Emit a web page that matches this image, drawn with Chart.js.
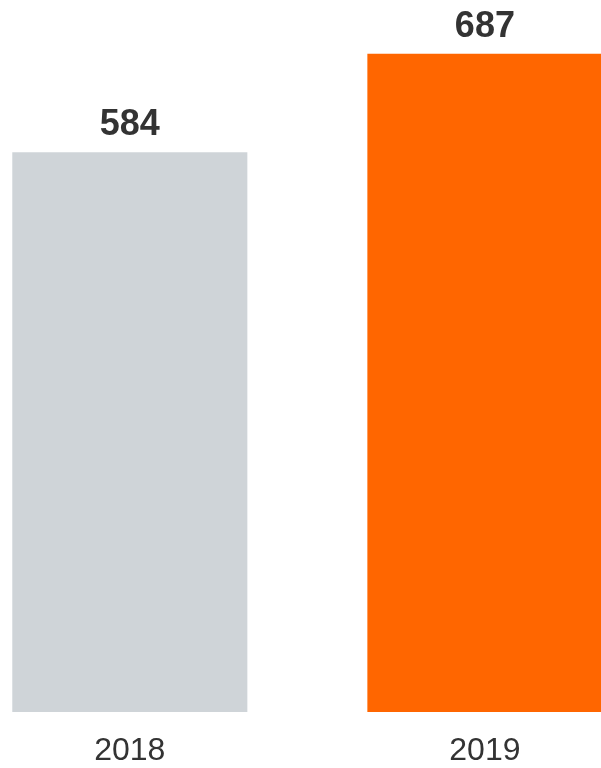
<!DOCTYPE html>
<html>
<head>
<meta charset="utf-8">
<script src="https://cdn.jsdelivr.net/npm/chart.js@4"></script>
<style>
  html, body { margin: 0; padding: 0; background: #fff; }
  #wrap { width: 601px; height: 768px; position: relative; }
</style>
</head>
<body>
<div id="wrap"><canvas id="yearChart"></canvas></div>
<script>
var years = ["2018", "2019"];
var values = [584, 687];
var barColors = ['#cfd4d8', '#ff6600'];

// draws the bold number above each bar
var valueLabels = {
  id: 'valueLabels',
  afterDatasetsDraw: function (chart) {
    var ctx = chart.ctx;
    var meta = chart.getDatasetMeta(0);
    ctx.save();
    ctx.font = 'bold 36px "Liberation Sans", Arial, sans-serif';
    ctx.fillStyle = '#333333';
    ctx.textAlign = 'center';
    ctx.textBaseline = 'alphabetic';
    meta.data.forEach(function (bar, i) {
      ctx.fillText(values[i], bar.x, bar.y - 17);
    });
    ctx.restore();
  }
};

var ctx = document.getElementById("yearChart").getContext('2d');
var myChart = new Chart(ctx, {
  type: 'bar',
  data: {
    datasets: [{
      data: values.map(function (v, i) { return { x: i, y: v }; }),
      backgroundColor: barColors,
      borderWidth: 0,
      barPercentage: 0.662,
      categoryPercentage: 1
    }]
  },
  options: {
    responsive: true,
    maintainAspectRatio: false,
    animation: false,
    layout: { padding: 0 },
    plugins: {
      legend: { display: false },
      tooltip: { enabled: false }
    },
    scales: {
      x: {
        type: 'linear',
        offset: false,
        min: -0.3656,
        max: 1.327,
        grid: { display: false, drawTicks: false, offset: false },
        border: { display: false },
        afterBuildTicks: function (scale) {
          scale.ticks = years.map(function (y, i) { return { value: i }; });
        },
        afterFit: function (scale) {
          scale.height = 56;
        },
        ticks: {
          padding: 20,
          color: '#333333',
          font: { family: '"Liberation Sans", Arial, sans-serif', size: 32 },
          maxRotation: 0,
          callback: function (value) { return years[value]; }
        }
      },
      y: {
        display: false,
        min: 0,
        max: 743
      }
    }
  },
  plugins: [valueLabels]
});
</script>
</body>
</html>
